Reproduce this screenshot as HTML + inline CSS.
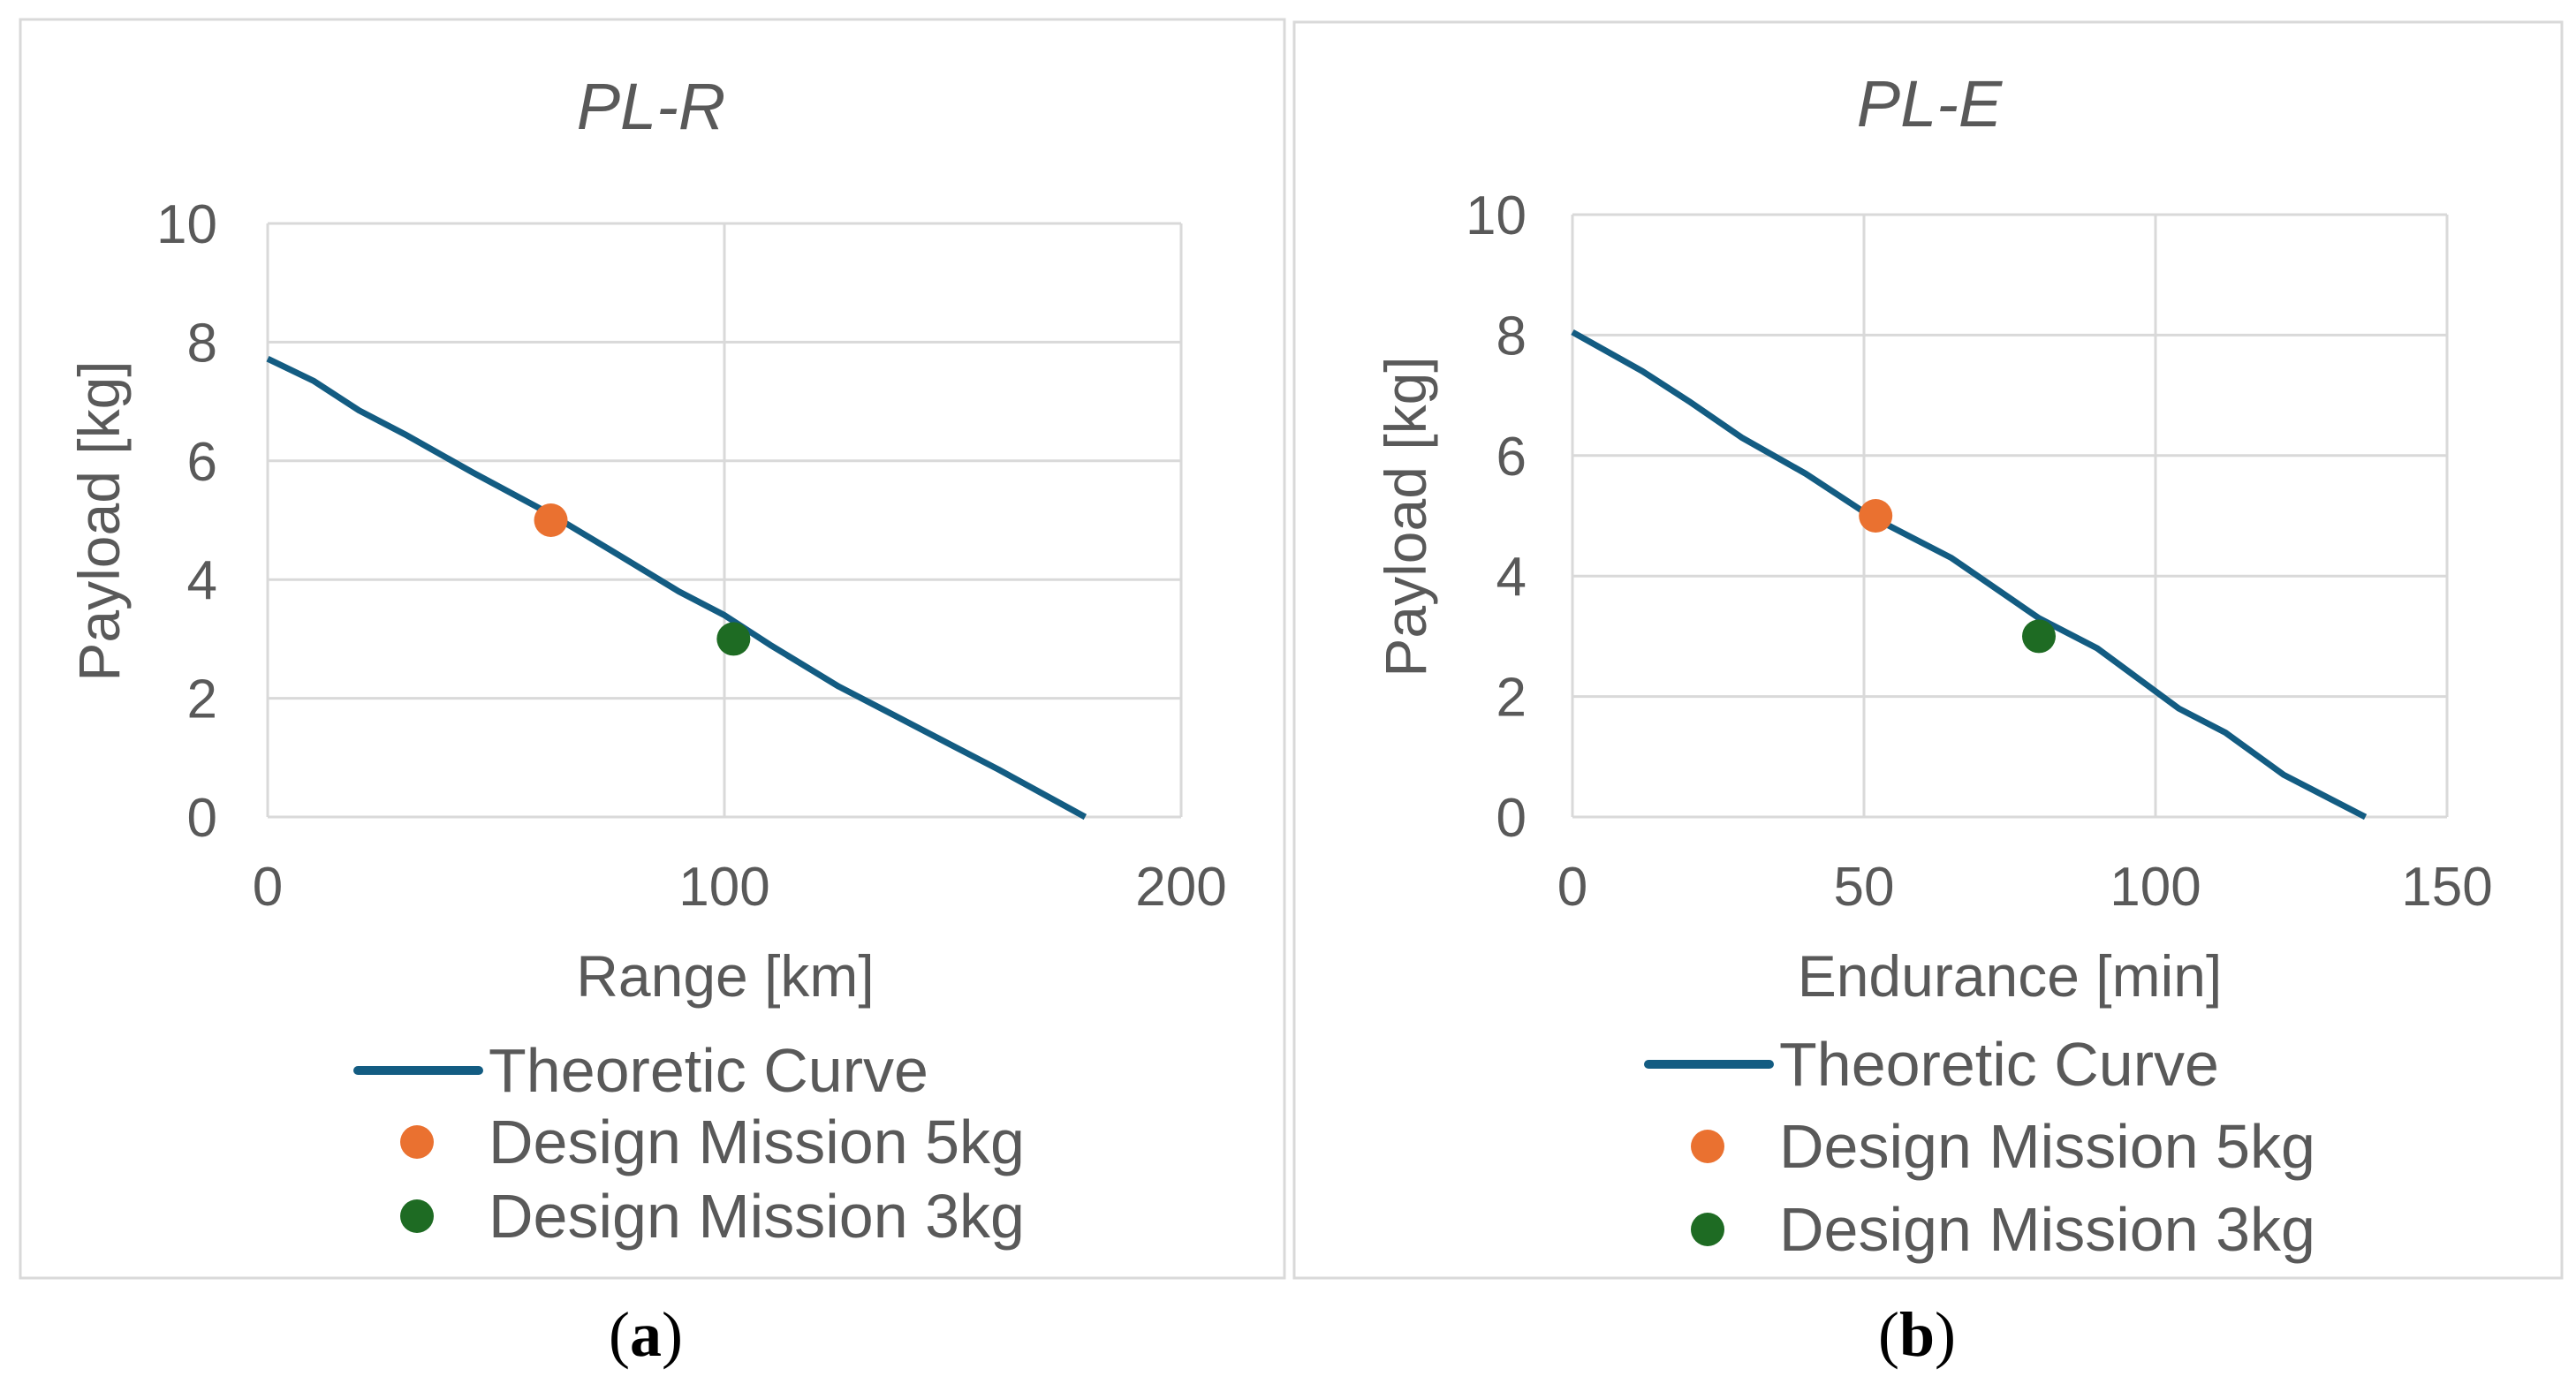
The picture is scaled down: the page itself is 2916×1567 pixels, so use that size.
<!DOCTYPE html>
<html><head><meta charset="utf-8"><style>
html,body{margin:0;padding:0;background:#fff;}
svg{display:block;font-family:"Liberation Sans",sans-serif;}
</style></head><body>
<svg id="fig" width="2916" height="1567" viewBox="0 0 2916 1567" xmlns="http://www.w3.org/2000/svg"></svg>
<script>
// Chart (a) data
const rangeX = [0,10,20,30,45,62,75,90,100,110,125,135,150,160,179];
const rangeY = [7.72,7.35,6.85,6.45,5.8,5.1,4.5,3.8,3.4,2.9,2.2,1.8,1.2,0.8,0];
const rangeMission5 = [62,5];
const rangeMission3 = [102,3];
const rangeXTicks = [0,100,200];
// Chart (b) data
const endX = [0,12,20,29,40,51,65,80,90,104,112,122,136];
const endY = [8.05,7.4,6.9,6.3,5.7,5.0,4.3,3.3,2.8,1.8,1.4,0.7,0];
const endMission5 = [52,5];
const endMission3 = [80,3];
const endXTicks = [0,50,100,150];
const yTicks = [0,2,4,6,8,10];

const NS="http://www.w3.org/2000/svg";
const svg=document.getElementById('fig');
function mk(tag,attrs,parent){const e=document.createElementNS(NS,tag);for(const k in attrs)e.setAttribute(k,attrs[k]);(parent||svg).appendChild(e);return e;}
const GRAY="#595959";

function chart(o){
  const g=mk('g',{});
  
  
  const border=mk('rect',{x:o.bx,y:o.by,width:o.bw,height:o.bh,fill:'none',stroke:'#d9d9d9','stroke-width':3},g);
  
  
  const xs=v=>o.px0+(v-o.xmin)/(o.xmax-o.xmin)*(o.px1-o.px0);
  const ys=v=>o.py0+(v-0)/10*(o.py1-o.py0);
  const t=mk('text',{x:o.titleX,y:o.titleY,'text-anchor':'middle','font-size':74,'font-style':'italic',fill:GRAY},g);
  t.textContent=o.title;
  
  
  yTicks.forEach(v=>{
    const l=mk('line',{x1:o.px0,x2:o.px1,y1:ys(v),y2:ys(v),stroke:'#d9d9d9','stroke-width':3},g);
    
    
    const tx=mk('text',{x:o.ylabX,y:ys(v)+22,'text-anchor':'end','font-size':62,fill:GRAY},g);
    tx.textContent=v;
    
    
  });
  o.xTicks.forEach(v=>{
    const l=mk('line',{x1:xs(v),x2:xs(v),y1:o.py0,y2:o.py1,stroke:'#d9d9d9','stroke-width':3},g);
    
    
    const tx=mk('text',{x:xs(v),y:1025,'text-anchor':'middle','font-size':62,fill:GRAY},g);
    tx.textContent=v;
    
    
  });
  const yt=mk('text',{x:0,y:0,'text-anchor':'middle','font-size':66,fill:GRAY,transform:`translate(${o.ytX},${o.ytY}) rotate(-90)`},g);
  yt.textContent='Payload [kg]';
  
  
  const xt=mk('text',{x:o.xtX,y:1128,'text-anchor':'middle','font-size':66,fill:GRAY,'xml:space':'preserve'},g);
  xt.textContent=o.xtitle;
  
  
  const pts=o.cx.map((x,i)=>xs(x).toFixed(1)+','+ys(o.cy[i]).toFixed(1)).join(' ');
  const pl=mk('polyline',{points:pts,fill:'none',stroke:'#135c82','stroke-width':7,'stroke-linejoin':'round'},g);
  
  
  const m5=mk('circle',{cx:xs(o.m5[0]),cy:ys(o.m5[1]),r:19,fill:'#ea7130'},g);
  
  
  const m3=mk('circle',{cx:xs(o.m3[0]),cy:ys(o.m3[1]),r:19,fill:'#1e6b23'},g);
  
  
  const lg=mk('g',{},g);
  
  
  const ll=mk('line',{x1:o.lgx0,x2:o.lgx0+137,y1:o.lgy[0],y2:o.lgy[0],stroke:'#135c82','stroke-width':10,'stroke-linecap':'round'},lg);
  
  
  const c1=mk('circle',{cx:o.lgx0+67,cy:o.lgy[1],r:19,fill:'#ea7130'},lg);
  
  
  const c2=mk('circle',{cx:o.lgx0+67,cy:o.lgy[2],r:19,fill:'#1e6b23'},lg);
  
  
  ['Theoretic Curve','Design Mission 5kg','Design Mission 3kg'].forEach((s,i)=>{
    const tx=mk('text',{x:o.lgx0+148,y:o.lgy[i]+24,'font-size':70,fill:GRAY},lg);
    tx.textContent=s;
    
    
  });
  const cap=mk('text',{x:o.capX,y:1535,'text-anchor':'middle','font-size':72,'font-family':'"Liberation Serif",serif',fill:'#000'},g);
  cap.innerHTML='(<tspan font-weight="bold">'+o.cap+'</tspan>)';
  
  
}

chart({id:'pl-r',bx:23,by:22,bw:1431,bh:1425,title:'PL-R',titleX:737,titleY:146,
  px0:303,px1:1337,py0:925,py1:253,xmin:0,xmax:200,xTicks:rangeXTicks,ylabX:246,
  ytX:135,ytY:590,xtX:821,xtitle:'Range [km]',cx:rangeX,cy:rangeY,m5:rangeMission5,m3:rangeMission3,
  lgx0:405,lgy:[1212,1293,1377],capX:731,cap:'a'});
chart({id:'pl-e',bx:1465,by:25,bw:1435,bh:1422,title:'PL-E',titleX:2184,titleY:143,
  px0:1780,px1:2770,py0:925,py1:243,xmin:0,xmax:150,xTicks:endXTicks,ylabX:1728,
  ytX:1614,ytY:585,xtX:2275,xtitle:'Endurance  [min]',cx:endX,cy:endY,m5:endMission5,m3:endMission3,
  lgx0:1866,lgy:[1205,1298,1392],capX:2170,cap:'b'});
</script>
</body></html>
